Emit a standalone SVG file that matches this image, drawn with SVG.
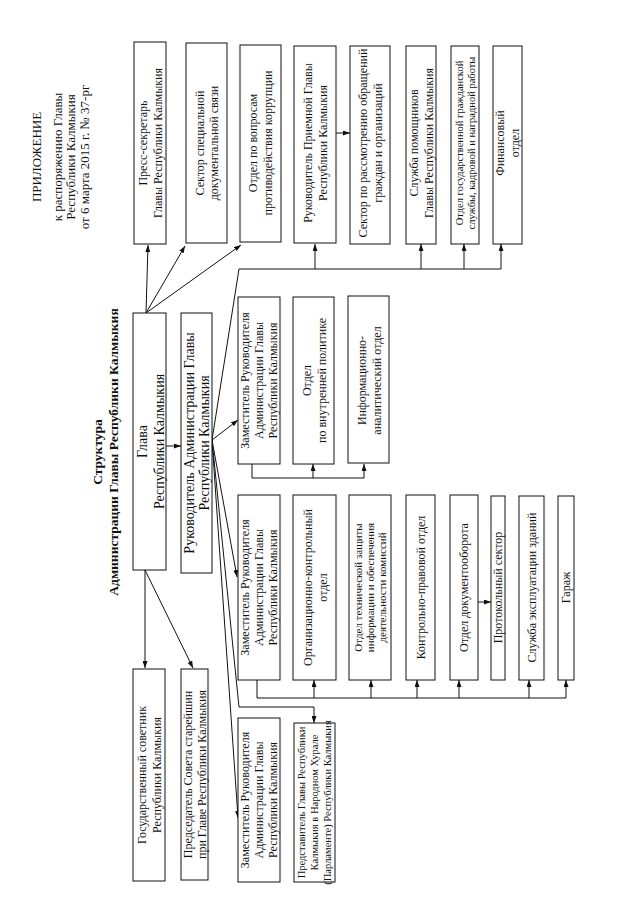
<svg xmlns="http://www.w3.org/2000/svg" width="640" height="905" viewBox="0 0 640 905">
<style>
rect.b{fill:#fff;stroke:#111;stroke-width:1}
text{font-family:"Liberation Serif","Times New Roman",serif;fill:#111;text-anchor:middle}
.f12{font-size:12px}
.f10{font-size:10.5px}
.f11{font-size:11px}
.f14{font-size:14px}
.f13{font-size:13px}
.tb{font-size:13.5px;font-weight:bold}
.c path{fill:none;stroke:#111;stroke-width:1}
</style>
<defs>
<marker id="a" viewBox="0 0 7 5" refX="7" refY="2.5" markerWidth="7" markerHeight="5" markerUnits="userSpaceOnUse" orient="auto"><path d="M0,0 L7,2.5 L0,5 z" fill="#111"/></marker>
</defs>
<rect width="640" height="905" fill="#fff"/>

<g id="title-app">
<text class="f13" transform="translate(0,157) rotate(-90)"><tspan x="0" y="40.5">ПРИЛОЖЕНИЕ</tspan><tspan x="0" y="61.5">к распоряжению Главы</tspan><tspan x="0" y="74.5">Республики Калмыкия</tspan><tspan x="0" y="88.5">от 6 марта 2015 г. № 37-рг</tspan></text>
</g>
<g id="title-structure">
<text class="tb" transform="translate(0,452) rotate(-90)"><tspan x="0" y="101.7">Структура</tspan><tspan x="0" y="117.7">Администрации Главы Республики Калмыкия</tspan></text>
</g>

<g class="c" id="connectors">
<path d="M166,446 H181" marker-end="url(#a)"/>
<path d="M146,313 L148,245" marker-end="url(#a)"/>
<path d="M146,313 L185,246" marker-end="url(#a)"/>
<path d="M146,313 L241,245" marker-end="url(#a)"/>
<path d="M145,570 L145,668" marker-end="url(#a)"/>
<path d="M145,570 L193,668" marker-end="url(#a)"/>
<path d="M212,440 L239,269 H501"/>
<path d="M315,269 V244" marker-end="url(#a)"/>
<path d="M421,269 V244" marker-end="url(#a)"/>
<path d="M464,269 V244" marker-end="url(#a)"/>
<path d="M501,269 V244" marker-end="url(#a)"/>
<path d="M336,133 H350" marker-end="url(#a)"/>
<path d="M212,440 L238,420" marker-end="url(#a)"/>
<path d="M252,464 V478 H364"/>
<path d="M313,478 V464" marker-end="url(#a)"/>
<path d="M364,478 V464" marker-end="url(#a)"/>
<path d="M212,440 L237,577" marker-end="url(#a)"/>
<path d="M257,680 V698 H566"/>
<path d="M314,698 V680" marker-end="url(#a)"/>
<path d="M371,698 V680" marker-end="url(#a)"/>
<path d="M417,698 V680" marker-end="url(#a)"/>
<path d="M459,698 V680" marker-end="url(#a)"/>
<path d="M529,698 V680" marker-end="url(#a)"/>
<path d="M566,698 V680" marker-end="url(#a)"/>
<path d="M478,602 H491" marker-end="url(#a)"/>
<path d="M212,440 L239,707 H314 V723" marker-end="url(#a)"/>
<path d="M212,440 L238,818" marker-end="url(#a)"/>
</g>

<g id="press">
<rect class="b" x="134" y="42" width="32" height="202"/>
<text class="f12" transform="translate(0,143) rotate(-90)"><tspan x="0" y="146.7">Пресс-секретарь</tspan><tspan x="0" y="161.7">Главы Республики Калмыкия</tspan></text>
</g>
<g id="sektor-spec">
<rect class="b" x="186" y="43" width="41" height="200"/>
<text class="f12" transform="translate(0,143) rotate(-90)"><tspan x="0" y="203.7">Сектор специальной</tspan><tspan x="0" y="217.7">документальной связи</tspan></text>
</g>
<g id="otdel-korr">
<rect class="b" x="240" y="45" width="41" height="197"/>
<text class="f12" transform="translate(0,143) rotate(-90)"><tspan x="0" y="257.2">Отдел по вопросам</tspan><tspan x="0" y="272.2">противодействия коррупции</tspan></text>
</g>
<g id="ruk-priem">
<rect class="b" x="294" y="46" width="42" height="197"/>
<text class="f12" transform="translate(0,143) rotate(-90)"><tspan x="0" y="311.7">Руководитель Приемной Главы</tspan><tspan x="0" y="326.7">Республики Калмыкия</tspan></text>
</g>
<g id="sektor-obr">
<rect class="b" x="350" y="46" width="40" height="198"/>
<text class="f12" transform="translate(0,143) rotate(-90)"><tspan x="0" y="366.7">Сектор по рассмотрению обращений</tspan><tspan x="0" y="381.7">граждан и организаций</tspan></text>
</g>
<g id="sluzhba-pom">
<rect class="b" x="406" y="46" width="30" height="198"/>
<text class="f12" transform="translate(0,143) rotate(-90)"><tspan x="0" y="417.7">Служба помощников</tspan><tspan x="0" y="432.7">Главы Республики Калмыкия</tspan></text>
</g>
<g id="otdel-gos">
<rect class="b" x="451" y="46" width="28" height="198"/>
<text class="f10" transform="translate(0,143) rotate(-90)"><tspan x="0" y="462.7">Отдел государственной гражданской</tspan><tspan x="0" y="474.7">службы, кадровой и наградной работы</tspan></text>
</g>
<g id="fin">
<rect class="b" x="493" y="46" width="29" height="198"/>
<text class="f12" transform="translate(0,143) rotate(-90)"><tspan x="0" y="504.2">Финансовый</tspan><tspan x="0" y="519.2">отдел</tspan></text>
</g>

<g id="glava">
<rect class="b" x="133" y="313" width="33" height="257"/>
<text class="f14" transform="translate(0,441.5) rotate(-90)"><tspan x="0" y="146.9">Глава</tspan><tspan x="0" y="163.9">Республики Калмыкия</tspan></text>
</g>
<g id="ruk-adm">
<rect class="b" x="181" y="313" width="31" height="260"/>
<text class="f14" transform="translate(0,443) rotate(-90)"><tspan x="0" y="193.9">Руководитель Администрации Главы</tspan><tspan x="0" y="208.9">Республики Калмыкия</tspan></text>
</g>

<g id="zam1">
<rect class="b" x="238" y="297" width="42" height="167"/>
<text class="f12" transform="translate(0,380.5) rotate(-90)"><tspan x="0" y="249.2">Заместитель Руководителя</tspan><tspan x="0" y="263.2">Администрации Главы</tspan><tspan x="0" y="277.2">Республики Калмыкия</tspan></text>
</g>
<g id="otdel-vnutr">
<rect class="b" x="293" y="297" width="41" height="167"/>
<text class="f12" transform="translate(0,380.5) rotate(-90)"><tspan x="0" y="310.7">Отдел</tspan><tspan x="0" y="325.7">по внутренней политике</tspan></text>
</g>
<g id="info">
<rect class="b" x="348" y="296" width="41" height="167"/>
<text class="f12" transform="translate(0,380.5) rotate(-90)"><tspan x="0" y="365.7">Информационно-</tspan><tspan x="0" y="380.7">аналитический отдел</tspan></text>
</g>

<g id="zam2">
<rect class="b" x="238" y="495" width="42" height="185"/>
<text class="f12" transform="translate(0,587.5) rotate(-90)"><tspan x="0" y="249.2">Заместитель Руководителя</tspan><tspan x="0" y="263.2">Администрации Главы</tspan><tspan x="0" y="277.2">Республики Калмыкия</tspan></text>
</g>
<g id="org">
<rect class="b" x="293" y="495" width="43" height="185"/>
<text class="f12" transform="translate(0,587.5) rotate(-90)"><tspan x="0" y="311.7">Организационно-контрольный</tspan><tspan x="0" y="326.7">отдел</tspan></text>
</g>
<g id="teh">
<rect class="b" x="349" y="495" width="42" height="185"/>
<text class="f11" transform="translate(0,587.5) rotate(-90)"><tspan x="0" y="361.8">Отдел технической защиты</tspan><tspan x="0" y="373.8">информации и обеспечения</tspan><tspan x="0" y="385.8">деятельности комиссий</tspan></text>
</g>
<g id="kontr">
<rect class="b" x="406" y="495" width="29" height="185"/>
<text class="f12" transform="translate(0,587.5) rotate(-90)"><tspan x="0" y="424.7">Контрольно-правовой отдел</tspan></text>
</g>
<g id="dok">
<rect class="b" x="450" y="495" width="28" height="185"/>
<text class="f12" transform="translate(0,587.5) rotate(-90)"><tspan x="0" y="468.2">Отдел документооборота</tspan></text>
</g>
<g id="prot">
<rect class="b" x="491" y="496" width="14" height="184"/>
<text class="f12" transform="translate(0,587.5) rotate(-90)"><tspan x="0" y="502.2">Протокольный сектор</tspan></text>
</g>
<g id="expl">
<rect class="b" x="519" y="496" width="25" height="184"/>
<text class="f12" transform="translate(0,587.5) rotate(-90)"><tspan x="0" y="535.7">Служба эксплуатации зданий</tspan></text>
</g>
<g id="garazh">
<rect class="b" x="558" y="496" width="16" height="184"/>
<text class="f12" transform="translate(0,587.5) rotate(-90)"><tspan x="0" y="570.2">Гараж</tspan></text>
</g>

<g id="gos-sov">
<rect class="b" x="133" y="669" width="32" height="212"/>
<text class="f12" transform="translate(0,775) rotate(-90)"><tspan x="0" y="145.7">Государственный советник</tspan><tspan x="0" y="160.7">Республики Калмыкия</tspan></text>
</g>
<g id="pred-sovet">
<rect class="b" x="181" y="669" width="27" height="211"/>
<text class="f12" transform="translate(0,774.5) rotate(-90)"><tspan x="0" y="191.7">Председатель Совета старейшин</tspan><tspan x="0" y="205.7">при Главе Республики Калмыкия</tspan></text>
</g>
<g id="zam3">
<rect class="b" x="238" y="718" width="42" height="164"/>
<text class="f12" transform="translate(0,800) rotate(-90)"><tspan x="0" y="249.2">Заместитель Руководителя</tspan><tspan x="0" y="263.2">Администрации Главы</tspan><tspan x="0" y="277.2">Республики Калмыкия</tspan></text>
</g>
<g id="predst">
<rect class="b" x="294" y="723" width="41" height="159"/>
<text class="f10" transform="translate(0,802.5) rotate(-90)"><tspan x="0" y="305.2">Представитель Главы Республики</tspan><tspan x="0" y="318.2">Калмыкия в Народном Хурале</tspan><tspan x="0" y="331.2">(Парламенте) Республики Калмыкия</tspan></text>
</g>
</svg>
